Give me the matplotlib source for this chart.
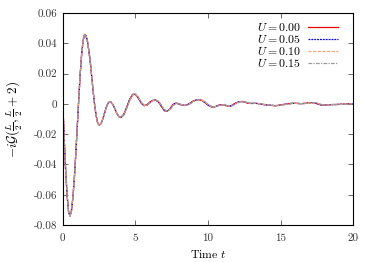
import numpy as np
import matplotlib
matplotlib.use('Agg')
from matplotlib import pyplot as plt
from matplotlib.ticker import FuncFormatter

plt.rcParams['font.family'] = 'cmr10'
plt.rcParams['mathtext.fontset'] = 'cm'
plt.rcParams['axes.unicode_minus'] = False
plt.rcParams['axes.formatter.use_mathtext'] = True

# %%
# time grid: fine step for the first oscillations, coarser later
t_early = [0.0, 0.1, 0.2, 0.3, 0.4, 0.5, 0.6, 0.7, 0.8, 0.9,
           1.0, 1.1, 1.2, 1.3, 1.4, 1.5, 1.6, 1.7, 1.8, 1.9,
           2.0, 2.1, 2.2, 2.3, 2.4, 2.5, 2.6, 2.7, 2.8, 2.9,
           3.0, 3.1, 3.2, 3.3, 3.4, 3.5, 3.6, 3.7, 3.8, 3.9]
t_late = [4.0, 4.2, 4.4, 4.6, 4.8, 5.0, 5.2, 5.4, 5.6, 5.8,
          6.0, 6.2, 6.4, 6.6, 6.8, 7.0, 7.2, 7.4, 7.6, 7.8,
          8.0, 8.2, 8.4, 8.6, 8.8, 9.0, 9.2, 9.4, 9.6, 9.8,
          10.0, 10.2, 10.4, 10.6, 10.8, 11.0, 11.2, 11.4, 11.6, 11.8,
          12.0, 12.2, 12.4, 12.6, 12.8, 13.0, 13.2, 13.4, 13.6, 13.8,
          14.0, 14.2, 14.4, 14.6, 14.8, 15.0, 15.2, 15.4, 15.6, 15.8,
          16.0, 16.2, 16.4, 16.6, 16.8, 17.0, 17.2, 17.4, 17.6, 17.8,
          18.0, 18.2, 18.4, 18.6, 18.8, 19.0, 19.2, 19.4, 19.6, 19.8, 20.0]

# all U curves coincide for t < 4
g_early = [0.0, -0.024, -0.045, -0.061, -0.0715, -0.074, -0.0701, -0.0613, -0.0481, -0.0318,
           -0.014, 0.0038, 0.0201, 0.0333, 0.0421, 0.0459, 0.045, 0.0411, 0.0348, 0.027,
           0.017, 0.0074, -0.0013, -0.008, -0.0125, -0.014, -0.0133, -0.0114, -0.0085, -0.0053,
           -0.0022, 0.0002, 0.0014, 0.0013, 0.0003, -0.0014, -0.0035, -0.0057, -0.0076, -0.0087]

g_late_u000 = [-0.009, -0.0069, -0.0022, 0.003, 0.0063, 0.0064, 0.0038, 0.0005, -0.0012, -0.0005,
               0.0012, 0.0024, 0.0025, 0.0012, -0.0018, -0.0045, -0.0048, -0.003, -0.0002, 0.0006,
               0.0, -0.0008, -0.001, -0.0004, 0.0008, 0.002, 0.0026, 0.0028, 0.0022, 0.0008,
               -0.0008, -0.0018, -0.002, -0.0014, -0.0006, -0.0005, -0.001, -0.0016, -0.0012, 0.0,
               0.001, 0.0015, 0.0016, 0.001, 0.0004, 0.0003, 0.0004, 0.0003, 0.0, -0.0004,
               -0.0006, -0.0008, -0.001, -0.0012, -0.001, -0.0006, -0.0004, 0.0, 0.0002, 0.0004,
               0.0004, 0.0003, 0.0002, 0.0003, 0.0005, 0.0008, 0.0009, 0.0006, -0.0002, -0.0007,
               -0.0008, -0.0006, -0.0005, -0.0004, -0.0004, -0.0003, -0.0002, -0.0002, 0.0, 0.0002, 0.0002]
g_late_u005 = [-0.009, -0.007, -0.0025, 0.0027, 0.0062, 0.0065, 0.004, 0.0008, -0.0011, -0.0007,
               0.001, 0.0023, 0.0026, 0.0014, -0.0015, -0.0043, -0.0048, -0.0032, -0.0005, 0.0005,
               0.0001, -0.0007, -0.001, -0.0005, 0.0006, 0.0019, 0.0026, 0.0028, 0.0023, 0.001,
               -0.0006, -0.0017, -0.002, -0.0015, -0.0007, -0.0005, -0.0009, -0.0015, -0.0013, -0.0002,
               0.0009, 0.0015, 0.0016, 0.0011, 0.0005, 0.0003, 0.0004, 0.0003, 0.0001, -0.0003,
               -0.0006, -0.0008, -0.0009, -0.0011, -0.0011, -0.0007, -0.0004, -0.0001, 0.0002, 0.0004,
               0.0004, 0.0003, 0.0002, 0.0003, 0.0004, 0.0007, 0.0009, 0.0007, 0.0, -0.0006,
               -0.0008, -0.0007, -0.0005, -0.0004, -0.0004, -0.0003, -0.0002, -0.0002, -0.0001, 0.0001, 0.0002]
g_late_u010 = [-0.0089, -0.0072, -0.0028, 0.0024, 0.006, 0.0066, 0.0043, 0.001, -0.001, -0.0008,
               0.0008, 0.0022, 0.0026, 0.0016, -0.0012, -0.004, -0.0048, -0.0034, -0.0008, 0.0004,
               0.0002, -0.0006, -0.001, -0.0006, 0.0004, 0.0017, 0.0025, 0.0028, 0.0024, 0.0012,
               -0.0004, -0.0016, -0.002, -0.0016, -0.0008, -0.0005, -0.0008, -0.0014, -0.0014, -0.0004,
               0.0007, 0.0014, 0.0016, 0.0012, 0.0006, 0.0003, 0.0004, 0.0004, 0.0001, -0.0002,
               -0.0005, -0.0008, -0.0009, -0.0011, -0.0011, -0.0008, -0.0005, -0.0002, 0.0001, 0.0003,
               0.0004, 0.0003, 0.0002, 0.0003, 0.0004, 0.0006, 0.0008, 0.0008, 0.0002, -0.0005,
               -0.0008, -0.0007, -0.0005, -0.0004, -0.0004, -0.0003, -0.0003, -0.0002, -0.0001, 0.0001, 0.0002]
g_late_u015 = [-0.0088, -0.0075, -0.0032, 0.002, 0.0058, 0.0066, 0.0046, 0.0013, -0.0009, -0.0009,
               0.0006, 0.002, 0.0026, 0.0018, -0.0009, -0.0037, -0.0048, -0.0036, -0.0011, 0.0003,
               0.0003, -0.0005, -0.001, -0.0007, 0.0002, 0.0015, 0.0024, 0.0028, 0.0025, 0.0014,
               -0.0002, -0.0014, -0.002, -0.0017, -0.0009, -0.0005, -0.0007, -0.0013, -0.0015, -0.0006,
               0.0005, 0.0013, 0.0016, 0.0013, 0.0007, 0.0004, 0.0004, 0.0004, 0.0002, -0.0001,
               -0.0004, -0.0007, -0.0009, -0.001, -0.0011, -0.0009, -0.0006, -0.0003, 0.0, 0.0003,
               0.0004, 0.0004, 0.0002, 0.0002, 0.0004, 0.0005, 0.0008, 0.0009, 0.0004, -0.0003,
               -0.0007, -0.0008, -0.0006, -0.0004, -0.0004, -0.0004, -0.0003, -0.0002, -0.0002, 0.0, 0.0001]

u_labels = ['$U = 0.00$', '$U = 0.05$', '$U = 0.10$', '$U = 0.15$']
x_ticks = [0, 5, 10, 15, 20]
y_ticks = [-0.08, -0.06, -0.04, -0.02, 0, 0.02, 0.04, 0.06]

# %%
t = np.array(t_early + t_late)
series = [g_early + g_late_u000, g_early + g_late_u005,
          g_early + g_late_u010, g_early + g_late_u015]
styles = [
    dict(color='#ee0000', ls='-', lw=0.9),
    dict(color='#0000ee', ls=(0, (1.5, 0.8)), lw=0.9),
    dict(color='#ffa07a', ls=(0, (2.5, 1.2)), lw=0.9),
    dict(color='#999999', ls=(0, (3, 1, 1, 1)), lw=0.9),
]

fig = plt.figure(figsize=(3.74, 2.62), dpi=100)
ax = fig.add_axes([0.168, 0.141, 0.776, 0.809])

for y, lab, st in zip(series, u_labels, styles):
    ax.plot(t, y, label=lab, **st)

ax.set_xlim(0, 20)
ax.set_ylim(-0.08, 0.06)
ax.set_xticks(x_ticks)
ax.set_yticks(y_ticks)
ax.yaxis.set_major_formatter(FuncFormatter(lambda v, p: '0' if abs(v) < 1e-9 else f'{v:.2f}'))
ax.xaxis.set_major_formatter(FuncFormatter(lambda v, p: f'{v:.0f}'))
ax.tick_params(direction='in', top=True, right=True, length=3.5, width=0.6,
               labelsize=8, colors='#555555', labelcolor='#333333')
ax.tick_params(axis='x', pad=6)
ax.tick_params(axis='y', pad=4)
for s in ax.spines.values():
    s.set_linewidth(0.8)

ax.set_xlabel('Time $t$', fontsize=8.5, labelpad=4)
ax.set_ylabel(r'$-i\mathcal{G}(\frac{L}{2},\frac{L}{2}+2)$', fontsize=9.5, labelpad=6)

ax.legend(loc='upper right', frameon=False, fontsize=8.5, markerfirst=False,
          handlelength=2.6, handletextpad=0.6, labelspacing=0.0,
          borderaxespad=0.3, bbox_to_anchor=(0.978, 1.0))

fig.savefig('out.png', dpi=100)
